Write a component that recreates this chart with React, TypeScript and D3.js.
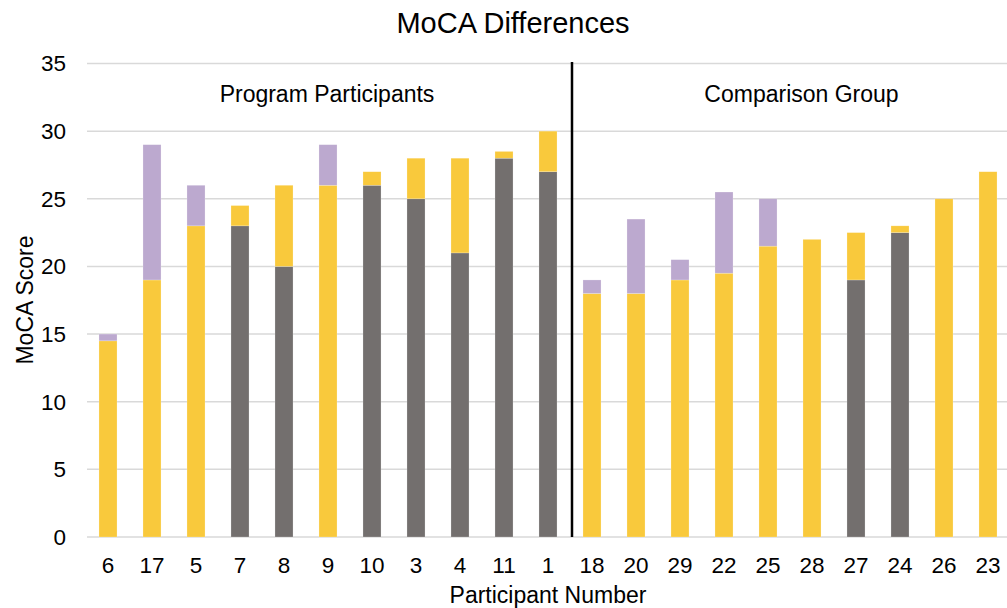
import React from "react";
import * as d3 from "d3";

const participants = ["6", "17", "5", "7", "8", "9", "10", "3", "4", "11", "1", "18", "20", "29", "22", "25", "28", "27", "24", "26", "23"];
const preScores = [15, 29, 26, 23, 20, 29, 26, 25, 21, 28, 27, 19, 23.5, 20.5, 25.5, 25, 22, 19, 22.5, 25, 27];
const postScores = [14.5, 19, 23, 24.5, 26, 26, 27, 28, 28, 28.5, 30, 18, 18, 19, 19.5, 21.5, 22, 22.5, 23, 25, 27];
const groupLabels = ["Program Participants", "Comparison Group"];
const groupSizes = [11, 10];
const yTicks = [0, 5, 10, 15, 20, 25, 30, 35];

const COLORS: Record<string, string> = {
  base: "#736F6E",
  post: "#F9C93C",
  decline: "#BCA9CF",
};

const W = 1007;
const H = 608;
const FONT = "'Liberation Sans', Arial, Helvetica, sans-serif";

export default function App() {
  const x = d3.scaleBand<string>().domain(participants).range([86, 1010]).paddingInner(0.59).paddingOuter(0.295);
  const y = d3.scaleLinear().domain([0, 35]).range([537, 63.5]);

  const rows = participants.map((p, i) => {
    const pre = preScores[i];
    const post = postScores[i];
    return {
      p,
      base: pre < post ? pre : 0,
      post: pre < post ? post - pre : post,
      decline: pre > post ? pre - post : 0,
    };
  });
  const keys = ["base", "post", "decline"];
  const stacked = d3.stack<any>().keys(keys)(rows);

  const step = x.step();
  const dividerX = 86 + step * groupSizes[0];
  const groupCenters = [
    (86 + dividerX) / 2 - 1,
    (dividerX + W) / 2 + 13,
  ];

  return (
    <svg width={W} height={H} style={{ position: "absolute", left: 0, top: 0, background: "#fff" }} fontFamily={FONT}>
      <rect x={0} y={0} width={W} height={H} fill="#fff" />
      <text x={513} y={33} textAnchor="middle" fontSize={29} fill="#000">MoCA Differences</text>
      {yTicks.map((t) => (
        <g key={t}>
          <line x1={87} x2={W} y1={y(t)} y2={y(t)} stroke="#D9D9D9" strokeWidth={1.5} />
          <text x={66} y={y(t)} dy="0.35em" textAnchor="end" fontSize={22.5} fill="#000">{t}</text>
        </g>
      ))}
      {stacked.map((s) => (
        <g key={s.key} fill={COLORS[s.key]}>
          {s.map((d, i) =>
            d[1] - d[0] > 0 ? (
              <rect
                key={i}
                x={x(participants[i])}
                width={x.bandwidth()}
                y={y(d[1])}
                height={y(d[0]) - y(d[1])}
                stroke="#fff"
                strokeOpacity={0.35}
                strokeWidth={0.6}
              />
            ) : null
          )}
        </g>
      ))}
      <line x1={dividerX + 2} x2={dividerX + 2} y1={62} y2={537} stroke="#000" strokeWidth={2.5} />
      {groupLabels.map((g, i) => (
        <text key={g} x={groupCenters[i]} y={102} textAnchor="middle" fontSize={23} fill="#000">{g}</text>
      ))}
      {participants.map((p) => (
        <text key={p} x={(x(p) as number) + x.bandwidth() / 2} y={573} textAnchor="middle" fontSize={22.5} fill="#000">{p}</text>
      ))}
      <text x={548} y={603} textAnchor="middle" fontSize={23} fill="#000">Participant Number</text>
      <text transform={`translate(33,300) rotate(-90)`} textAnchor="middle" fontSize={23} fill="#000">MoCA Score</text>
    </svg>
  );
}
